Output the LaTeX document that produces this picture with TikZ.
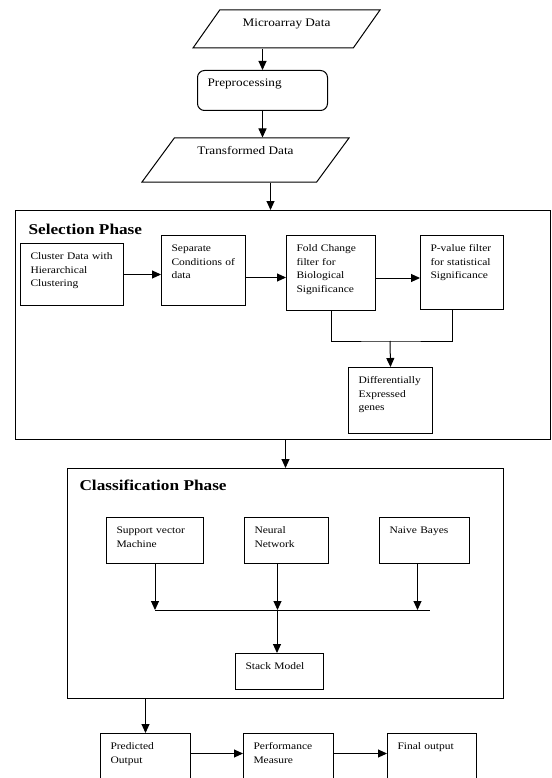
\documentclass[tikz,border=0pt]{standalone}
\usepackage{fontspec}
\setmainfont[FakeStretch=1.15]{Liberation Serif}
\usetikzlibrary{arrows.meta,shapes.geometric}

\tikzset{
  procbox/.style 2 args={draw, line width=1pt, anchor=north west, align=left,
    inner xsep=10pt, inner ysep=4pt, text width=#1-20pt,
    text height=12pt, text depth=#2-20pt, font=\fontsize{10}{13.5}\selectfont},
  databox/.style={draw, line width=1pt, trapezium, trapezium left angle=47,
    trapezium right angle=133, trapezium stretches body,
    font=\fontsize{11.5}{14}\selectfont},
  phase/.style 2 args={draw, line width=1pt, anchor=north west, inner sep=0pt,
    minimum width=#1, minimum height=#2},
  heading/.style={anchor=base west, font=\fontsize{15}{18}\selectfont\bfseries},
  flow/.style={-{Triangle[length=9pt,width=8pt]}, line width=1pt},
}

\begin{document}
\begin{tikzpicture}[x=1pt,y=-1pt]
\fill[white] (0,0) rectangle (551,778);
\useasboundingbox (0,0) rectangle (551,778);

% input and preprocessing
\node[databox, minimum width=187pt, minimum height=38pt, text height=9pt, text depth=13pt] (micro) at (286.5,29) {Microarray Data};
\node[procbox={130pt}{40pt}, rounded corners=7pt, font=\fontsize{11.5}{14}\selectfont] (pre) at (197,70) {Preprocessing};
\node[databox, minimum width=207pt, minimum height=44pt, text height=9pt, text depth=19pt] (trans) at (245.5,160) {Transformed Data};

% selection phase
\node[phase={535pt}{229pt}] (sel) at (15,210) {};
\node[heading] (selhead) at (25,234) {Selection Phase};
\node[procbox={103pt}{62pt}] (cluster) at (20,243) {Cluster Data with\\Hierarchical\\Clustering};
\node[procbox={84pt}{70pt}] (separate) at (161,235) {Separate\\Conditions of\\data};
\node[procbox={89pt}{75pt}] (fold) at (286,235) {Fold Change\\filter for\\Biological\\Significance};
\node[procbox={83pt}{74pt}] (pval) at (420,235) {P-value filter\\for statistical\\Significance};
\node[procbox={84pt}{66pt}] (deg) at (348,367) {Differentially\\Expressed\\genes};

% classification phase
\node[phase={436pt}{230pt}] (cls) at (67,468) {};
\node[heading] (clshead) at (76,490) {Classification Phase};
\node[procbox={97pt}{46pt}] (svm) at (106,517) {Support vector\\Machine};
\node[procbox={84pt}{46pt}] (nn) at (244,517) {Neural\\Network};
\node[procbox={90pt}{46pt}] (nb) at (379,517) {Naive Bayes};
\node[procbox={88pt}{36pt}] (stack) at (235,653) {Stack Model};

% output
\node[procbox={90pt}{60pt}] (pred) at (100,733) {Predicted\\Output};
\node[procbox={90pt}{60pt}] (perf) at (243,733) {Performance\\Measure};
\node[procbox={89pt}{60pt}] (final) at (387,733) {Final output};

% connectors
\coordinate (transout) at ([xshift=25pt]trans.south);
\coordinate (sepout) at ([yshift=-7pt]separate.east);
\coordinate (foldout) at ([yshift=-5pt]fold.east);
\coordinate (pvalout) at ([xshift=-10pt]pval.south);
\coordinate (merge) at (390,341);
\coordinate (nnout) at ([xshift=-9pt]nn.south);
\coordinate (nbout) at ([xshift=-7pt]nb.south);
\coordinate (bus) at (277,610);
\coordinate (busend) at (430,610);
\coordinate (predout) at ([yshift=10pt]pred.east);
\coordinate (perfout) at ([yshift=10pt]perf.east);

\draw[flow] (pre.north |- micro.south) -- (pre.north);
\draw[flow] (pre.south) -- (pre.south |- trans.north);
\draw[flow] (transout) -- (transout |- sel.north);
\draw[flow] (cluster.east) -- (cluster.east -| separate.west);
\draw[flow] (sepout) -- (sepout -| fold.west);
\draw[flow] (foldout) -- (foldout -| pval.west);
\draw[line width=1pt] (fold.south) |- (merge) -| (pvalout);
\draw[flow] (merge) -- (deg.north);
\draw[flow] (cls.north |- sel.south) -- (cls.north);
\draw[flow] (svm.south) -- (svm.south |- bus);
\draw[flow] (nnout) -- (nnout |- bus);
\draw[flow] (nbout) -- (nbout |- bus);
\draw[line width=1pt] (svm.south |- bus) -- (busend);
\draw[flow] (bus) -- (bus |- stack.north);
\draw[flow] (pred.north |- cls.south) -- (pred.north);
\draw[flow] (predout) -- (predout -| perf.west);
\draw[flow] (perfout) -- (perfout -| final.west);
\end{tikzpicture}
\end{document}
